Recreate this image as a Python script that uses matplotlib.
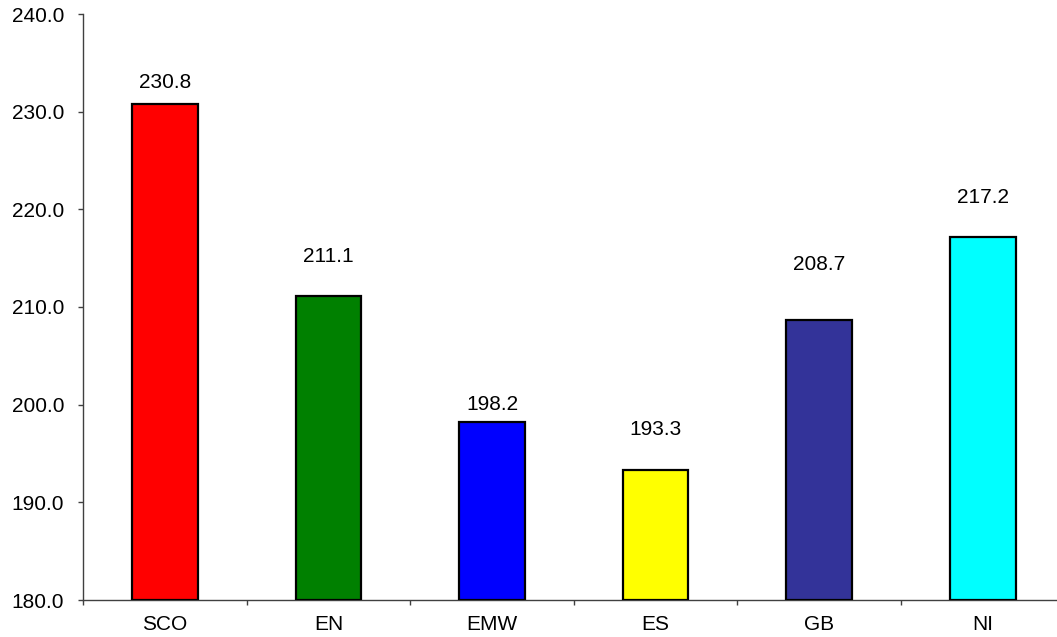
import matplotlib
matplotlib.use("Agg")
import matplotlib.pyplot as plt
import numpy as np

categories = ["SCO", "EN", "EMW", "ES", "GB", "NI"]
values = [230.8, 211.1, 198.2, 193.3, 208.7, 217.2]
colors = ["#ff0000", "#008000", "#0000ff", "#ffff00", "#333399", "#00ffff"]
label_offsets_px = [21, 39.5, 18, 40.5, 55.5, 39.5]
yticks = [180, 190, 200, 210, 220, 230, 240]

plt.rcParams['font.family'] = ['Liberation Sans', 'DejaVu Sans']
fig = plt.figure(figsize=(10.57, 6.37), dpi=100)
W, H = 1057, 637
left, right, top, bottom = 83, 83 + 6 * 163.6, 14, 600
ax = fig.add_axes([left / W, 1 - bottom / H, (right - left) / W, (bottom - top) / H])

x = np.arange(len(categories))
ax.bar(x, [v - 180 for v in values], bottom=180, width=0.4, color=colors,
       edgecolor="black", linewidth=1.6, zorder=3)
for xi, v, off in zip(x, values, label_offsets_px):
    ax.annotate(f"{v:.1f}", (xi, v), xytext=(0, off * 0.72), textcoords="offset points",
                ha="center", va="center", fontsize=15)

ax.set_xlim(-0.5, len(categories) - 0.5)
ax.set_ylim(180, 240)
ax.set_yticks(yticks)
ax.set_yticklabels([f"{t:.1f}" for t in yticks], fontsize=15)
ax.set_xticks(x)
ax.set_xticklabels(categories, fontsize=15)
ax.tick_params(axis="x", length=0, pad=11)
ax.set_xticks(np.arange(len(categories) + 1) - 0.5, minor=True)
ax.tick_params(axis="x", which="minor", length=3.6, width=1, color="#404040", direction="out")
ax.tick_params(axis="y", length=3.6, width=1, color="#404040", direction="out", pad=10)
for s in ["top", "right"]:
    ax.spines[s].set_visible(False)
for s in ["left", "bottom"]:
    ax.spines[s].set_color("#404040")
    ax.spines[s].set_linewidth(1)
fig.savefig("out.png", dpi=100)
